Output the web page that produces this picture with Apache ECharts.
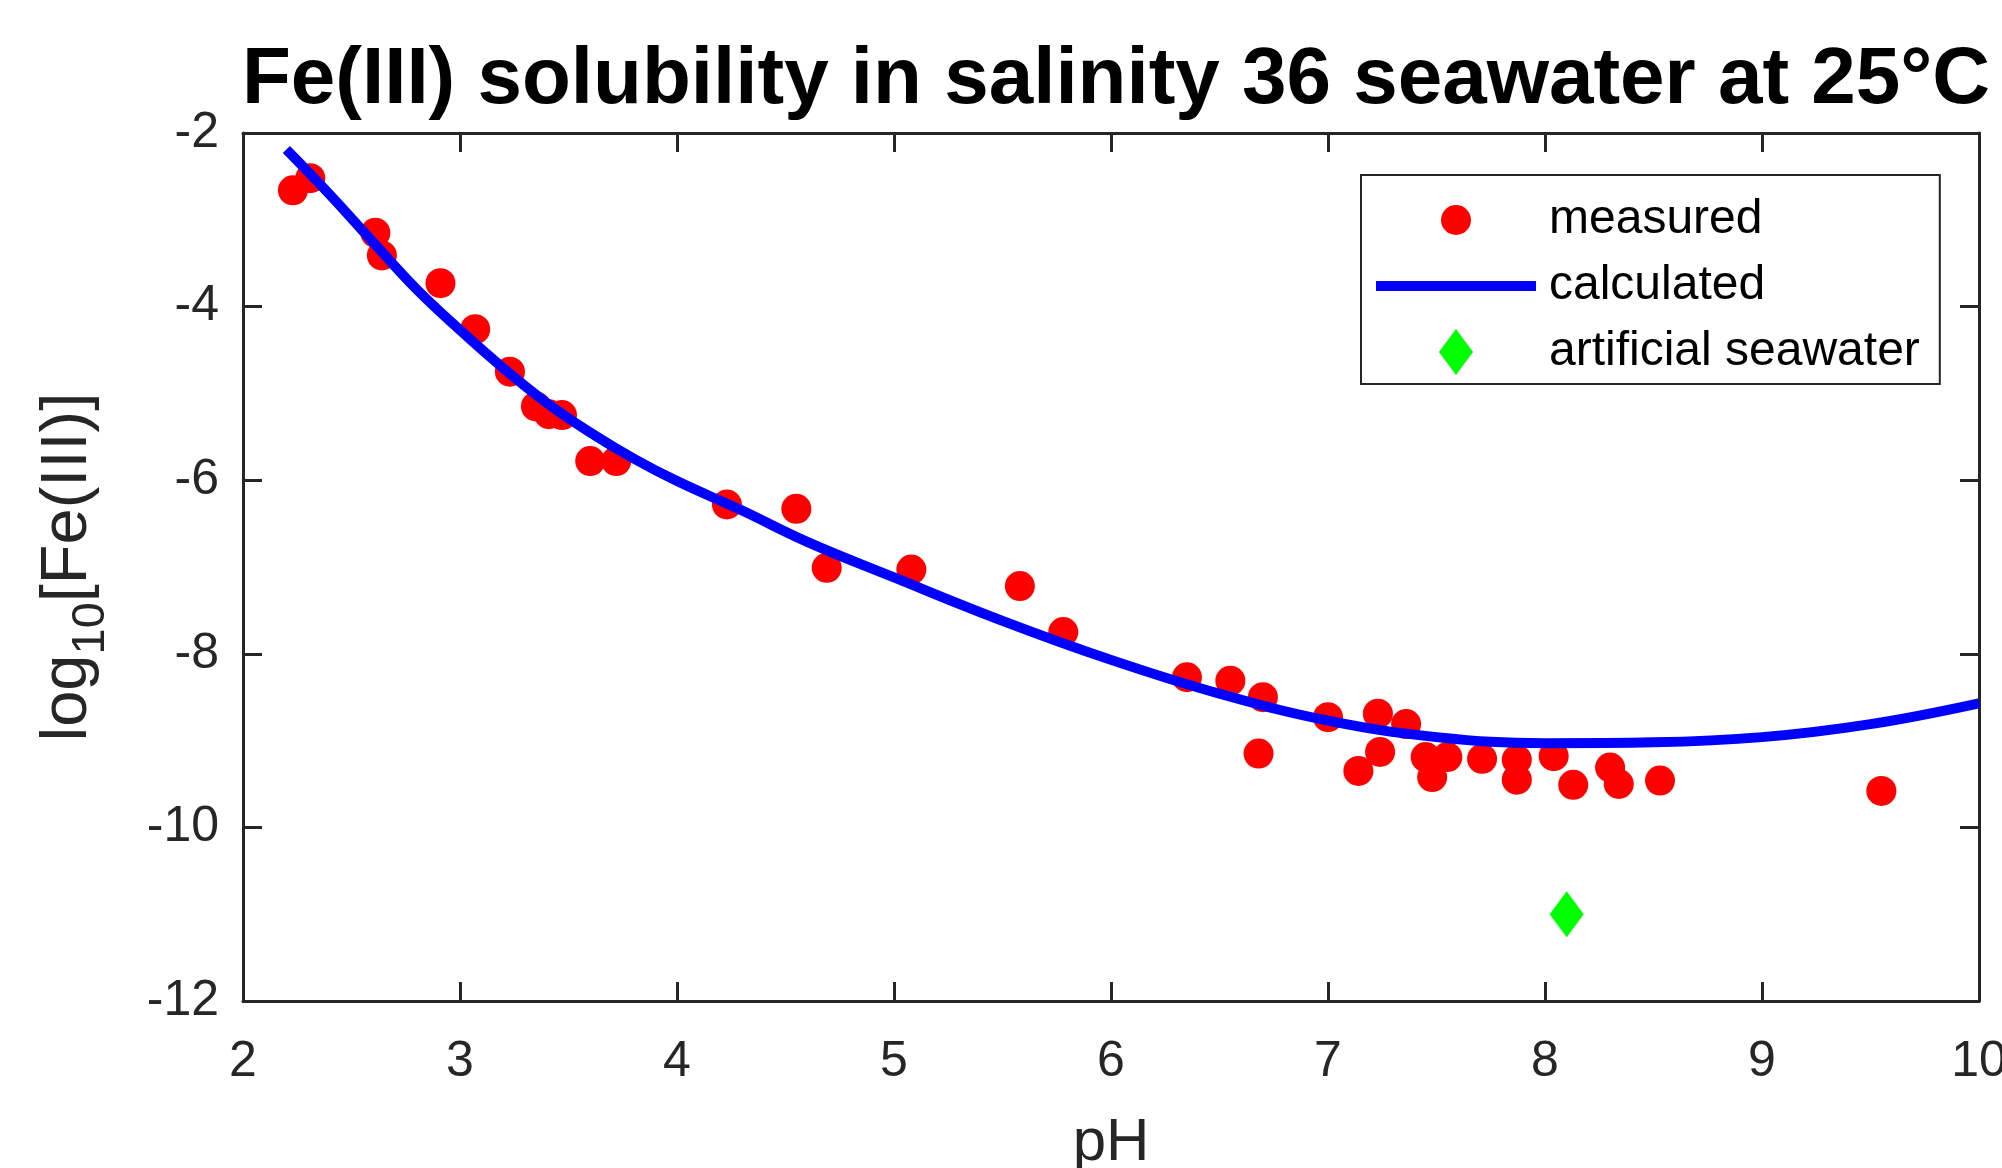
<!DOCTYPE html>
<html>
<head>
<meta charset="utf-8">
<script src="https://cdn.jsdelivr.net/npm/echarts@6/dist/echarts.min.js"></script>
<style>
html,body{margin:0;padding:0;background:#fff;}
#chart{width:2002px;height:1168px;}
</style>
</head>
<body>
<div id="chart"></div>
<script>
// ---- data ----
var measuredPH = [2.23, 2.31, 2.61, 2.64, 2.91, 3.07, 3.23, 3.35, 3.41, 3.47, 3.60, 3.72, 4.23, 4.55, 4.69, 5.08, 5.58, 5.78, 6.35, 6.55, 6.70, 6.68, 7.00, 7.14, 7.23, 7.24, 7.36, 7.45, 7.48, 7.55, 7.71, 7.87, 7.87, 8.04, 8.13, 8.30, 8.34, 8.53, 9.55];
var measuredLogFe = [-2.66, -2.52, -3.15, -3.41, -3.73, -4.26, -4.75, -5.15, -5.24, -5.25, -5.78, -5.78, -6.28, -6.33, -7.01, -7.03, -7.22, -7.75, -8.27, -8.31, -8.50, -9.15, -8.73, -9.35, -8.69, -9.13, -8.81, -9.19, -9.42, -9.19, -9.21, -9.22, -9.45, -9.18, -9.51, -9.31, -9.50, -9.46, -9.58];
var calcPH = [2.2, 2.4, 2.6, 2.8, 3.0, 3.2, 3.4, 3.6, 3.8, 4.0, 4.3, 4.6, 5.0, 5.5, 6.0, 6.5, 7.0, 7.5, 8.0, 8.5, 9.0, 9.5, 10.0];
var calcLogFe = [-2.19, -2.71, -3.26, -3.80, -4.27, -4.71, -5.11, -5.45, -5.75, -6.01, -6.35, -6.71, -7.12, -7.62, -8.07, -8.46, -8.77, -8.96, -9.03, -9.02, -8.96, -8.81, -8.57];
var artificialPH = [8.10];
var artificialLogFe = [-11.00];
var seriesNames = ['measured', 'calculated', 'artificial seawater'];
var titleText = 'Fe(III) solubility in salinity 36 seawater at 25\u00B0C';
var xName = 'pH';

function zip(a, b) { return a.map(function (v, i) { return [v, b[i]]; }); }

var FONT = "'Liberation Sans', Arial, Helvetica, sans-serif";
var AX = '#262626';

var chart = echarts.init(document.getElementById('chart'), null, {renderer: 'canvas'});

var axisCommon = {
  axisLine: {show: true, onZero: false, lineStyle: {color: AX, width: 3}},
  axisTick: {show: true, inside: true, length: 19, lineStyle: {color: AX, width: 3}},
  splitLine: {show: false},
  minorTick: {show: false}
};

var option = {
  animation: false,
  backgroundColor: '#fff',
  title: {
    text: titleText,
    left: 1111,
    top: 36,
    textAlign: 'center',
    textStyle: {fontFamily: FONT, fontWeight: 'bold', fontSize: 80, color: '#000'}
  },
  grid: {left: 243, right: 23, top: 133, bottom: 167, containLabel: false, outerBoundsMode: 'none'},
  legend: {
    orient: 'vertical',
    left: 1361,
    top: 175,
    padding: [21, 20, 8, 15],
    itemGap: 18,
    itemWidth: 168,
    itemHeight: 46,
    borderColor: AX,
    borderWidth: 2,
    backgroundColor: '#fff',
    itemStyle: {borderWidth: 0, opacity: 1},
    textStyle: {fontFamily: FONT, fontSize: 48, color: '#000'},
    data: [
      {name: seriesNames[0], icon: 'path://M0,0M168,46M65,23A15,15,0,1,1,95,23A15,15,0,1,1,65,23Z'},
      {name: seriesNames[1], icon: 'path://M0,0M168,46M0,18L160,18L160,28L0,28Z'},
      {name: seriesNames[2], icon: 'path://M0,0M168,46M80,0L97,23L80,46L63,23Z'}
    ]
  },
  xAxis: [
    Object.assign({
      type: 'value', position: 'bottom', min: 2, max: 10, interval: 1,
      name: xName, nameLocation: 'middle', nameGap: 112,
      nameTextStyle: {fontFamily: FONT, fontSize: 60, color: AX},
      axisLabel: {fontFamily: FONT, fontSize: 50, color: AX, margin: 36, showMaxLabel: true, showMinLabel: true}
    }, axisCommon),
    Object.assign({
      type: 'value', position: 'top', min: 2, max: 10, interval: 1,
      axisLabel: {show: false}
    }, axisCommon)
  ],
  yAxis: [
    Object.assign({
      type: 'value', position: 'left', min: -12, max: -2, interval: 2,
      name: '{n|log}{s|10}{n|[Fe(III)]}', nameLocation: 'middle', nameRotate: 90, nameGap: 142,
      nameTextStyle: {
        fontFamily: FONT, color: AX,
        rich: {
          n: {fontFamily: FONT, fontSize: 65, color: AX, lineHeight: 65, verticalAlign: 'top'},
          s: {fontFamily: FONT, fontSize: 47, color: AX, lineHeight: 47, verticalAlign: 'top', padding: [32, 0, 0, 0]}
        }
      },
      axisLabel: {fontFamily: FONT, fontSize: 50, color: AX, margin: 24}
    }, axisCommon),
    Object.assign({
      type: 'value', position: 'right', min: -12, max: -2, interval: 2,
      axisLabel: {show: false}
    }, axisCommon)
  ],
  series: [
    {
      name: seriesNames[0], type: 'scatter', xAxisIndex: 0, yAxisIndex: 0,
      symbol: 'circle', symbolSize: 30,
      itemStyle: {color: '#ff0000', borderWidth: 0, opacity: 1},
      data: zip(measuredPH, measuredLogFe), z: 2
    },
    {
      name: seriesNames[1], type: 'line', xAxisIndex: 0, yAxisIndex: 0,
      showSymbol: false, symbol: 'none', smooth: 0.4,
      lineStyle: {color: '#0000ff', width: 10, cap: 'butt', opacity: 1},
      itemStyle: {color: '#0000ff'},
      data: zip(calcPH, calcLogFe), z: 3
    },
    {
      name: seriesNames[2], type: 'scatter', xAxisIndex: 0, yAxisIndex: 0,
      symbol: 'diamond', symbolSize: [34, 46],
      itemStyle: {color: '#00ff00', borderWidth: 0, opacity: 1},
      data: zip(artificialPH, artificialLogFe), z: 4
    }
  ]
};
chart.setOption(option);
</script>
</body>
</html>
